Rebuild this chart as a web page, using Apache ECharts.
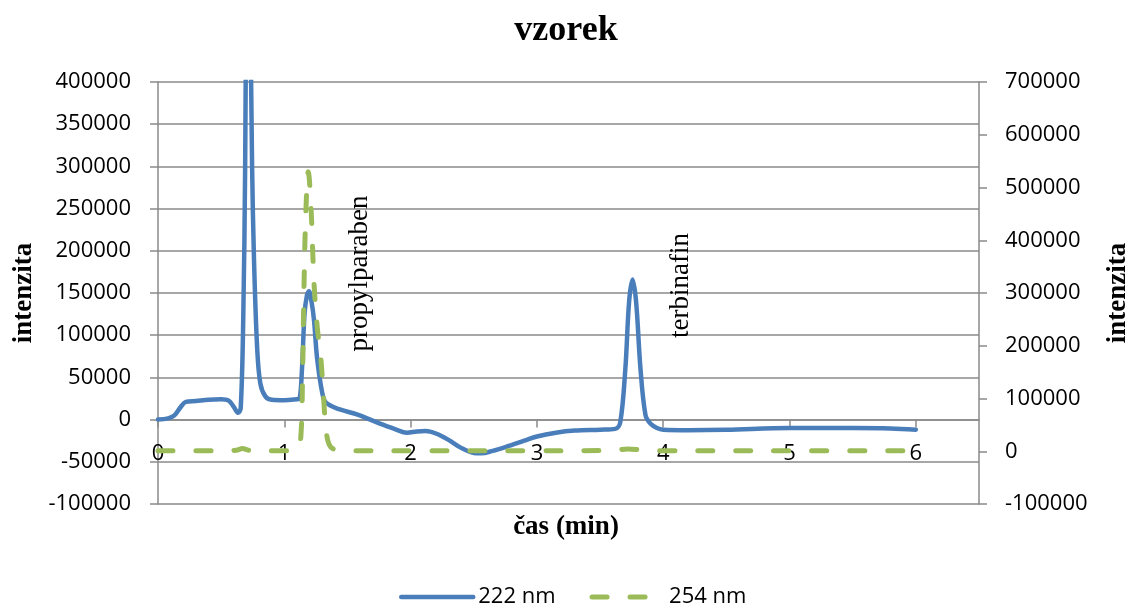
<!DOCTYPE html>
<html>
<head>
<meta charset="utf-8">
<title>vzorek</title>
<script src="https://cdn.jsdelivr.net/npm/echarts@6/dist/echarts.min.js"></script>
<style>
  html, body { margin: 0; padding: 0; background: #fff; }
  #chart { width: 1132px; height: 610px; }
</style>
</head>
<body>
<div id="chart"></div>
<script>
// Chromatogram of the sample: detector signal at 222 nm (left axis) and 254 nm (right axis)
const time222 = [0, 0.08, 0.13, 0.18, 0.22, 0.3, 0.4, 0.5, 0.56, 0.6, 0.635, 0.655, 0.675, 0.69, 0.70, 0.715, 0.73, 0.745, 0.76, 0.785, 0.81, 0.85, 0.9, 1.0, 1.1,
  1.12, 1.14, 1.16, 1.18, 1.195, 1.215, 1.235, 1.26, 1.3, 1.33, 1.44, 1.58, 1.68, 1.78, 1.88, 1.97, 2.05, 2.12, 2.2, 2.3, 2.4, 2.5, 2.56, 2.65, 2.75, 2.9, 3.0, 3.15, 3.3, 3.5, 3.62,
  3.66, 3.7, 3.73, 3.757, 3.785, 3.82, 3.86, 3.9, 3.95, 4.0, 4.2, 4.5, 5.0, 5.5, 5.8, 6.0];
const int222 = [0, 1500, 5000, 15000, 21000, 22000, 23500, 24000, 22500, 15000, 8000, 14000, 120000, 300000, 520000, 640000, 500000, 300000, 190000, 85000, 43000, 27500, 23500, 23000, 24000,
  24500, 60000, 125000, 148000, 152000, 140000, 118000, 72000, 32000, 20000, 12000, 6000, 0, -6000, -11500, -15500, -14000, -13500, -16500, -24000, -33500, -39500, -40000, -37000, -32500, -25000, -20000, -15500, -13000, -12000, -11000,
  -3000, 60000, 140000, 166000, 140000, 60000, 5000, -5000, -10000, -12000, -12500, -12000, -10000, -10000, -10500, -12000];

const time254 = [0, 0.5, 0.62, 0.67, 0.72, 1.0, 1.1, 1.13, 1.145, 1.155, 1.17, 1.19, 1.21, 1.235, 1.26, 1.29, 1.31, 1.33, 1.355, 1.4, 1.5, 2.0, 3.0, 3.6, 3.72, 3.85, 4.0, 5.0, 6.0];
const int254 = [1000, 1000, 2000, 5000, 2000, 1000, 2000, 25000, 150000, 300000, 450000, 530000, 470000, 320000, 237000, 174000, 105000, 42000, 13000, 3000, 1000, 1000, 1000, 1500, 4500, 2000, 1000, 1000, 1000];

// Peak names written beside the peaks (x in minutes, y on the 222 nm scale)
const peakNames = ['propylparaben', 'terbinafin'];
const peakNameX = [1.60, 4.14];
const peakNameY = [173000, 159000];

const leftTicks = { min: -100000, max: 400000, interval: 50000 };
const rightTicks = { min: -100000, max: 700000, interval: 100000 };
const timeTicks = { min: 0, max: 6.5, interval: 1 };

const seriesNames = ['222 nm', '254 nm'];
const colors = ['#4a7ebb', '#9bbb59'];
const dash254 = [15, 23];

const zip = (xs, ys) => xs.map((x, i) => [x, ys[i]]);

const sansFont = '"Open Sans", "Liberation Sans", sans-serif';
const serifFont = '"Liberation Serif", "DejaVu Serif", serif';
const gridGray = '#8a8a8a';

// Plot area
const W = 1132, H = 610;
const gridBox = { left: 158, right: 153, top: 82, bottom: 106 };
const plotHeight = H - gridBox.top - gridBox.bottom;
// The time axis crosses the left intensity axis at zero
const timeAxisLift = plotHeight * (0 - leftTicks.min) / (leftTicks.max - leftTicks.min);

const plain = v => String(v);

const chart = echarts.init(document.getElementById('chart'), null, { renderer: 'canvas' });

chart.setOption({
  backgroundColor: '#ffffff',
  animation: false,
  title: [
    {
      text: 'vzorek',
      left: 'center',
      top: 8,
      textStyle: { fontFamily: serifFont, fontWeight: 'bold', fontSize: 36, color: '#000' }
    },
    {
      text: 'čas (min)',
      left: 'center',
      top: 509,
      textStyle: { fontFamily: serifFont, fontWeight: 'bold', fontSize: 27, color: '#000' }
    }
  ],
  legend: {
    data: [
      { name: seriesNames[0], lineStyle: { width: 4.5, cap: 'round' } },
      { name: seriesNames[1], lineStyle: { width: 5, type: dash254, cap: 'round' } }
    ],
    left: 394,
    top: 581,
    itemWidth: 72,
    itemHeight: 14,
    itemGap: 34,
    itemStyle: { opacity: 0 },
    textStyle: { fontFamily: sansFont, fontSize: 22, color: '#000' }
  },
  grid: Object.assign({ containLabel: false, outerBoundsMode: 'none' }, gridBox),
  xAxis: {
    type: 'value',
    min: timeTicks.min,
    max: timeTicks.max,
    interval: timeTicks.interval,
    offset: -timeAxisLift,
    axisLine: { onZero: false, lineStyle: { color: gridGray, width: 1.5 } },
    axisTick: { show: true, length: 8, lineStyle: { color: gridGray, width: 1.5 } },
    axisLabel: { margin: 23, showMaxLabel: false, formatter: plain, fontFamily: sansFont, fontSize: 22, color: '#000' },
    splitLine: { show: false }
  },
  yAxis: [
    {
      type: 'value',
      position: 'left',
      min: leftTicks.min,
      max: leftTicks.max,
      interval: leftTicks.interval,
      name: 'intenzita',
      nameLocation: 'middle',
      nameRotate: 90,
      nameGap: 117,
      nameTextStyle: { fontFamily: serifFont, fontWeight: 'bold', fontSize: 27, color: '#000' },
      axisLine: { show: true, onZero: false, lineStyle: { color: gridGray, width: 1.5 } },
      axisTick: { show: true, length: 8, lineStyle: { color: gridGray, width: 1.5 } },
      axisLabel: { margin: 27, formatter: plain, fontFamily: sansFont, fontSize: 22, color: '#000' },
      splitLine: { show: true, lineStyle: { color: gridGray, width: 1.5 } }
    },
    {
      type: 'value',
      position: 'right',
      min: rightTicks.min,
      max: rightTicks.max,
      interval: rightTicks.interval,
      name: 'intenzita',
      nameLocation: 'middle',
      nameRotate: 90,
      nameGap: 126,
      nameTextStyle: { fontFamily: serifFont, fontWeight: 'bold', fontSize: 27, color: '#000' },
      axisLine: { show: true, onZero: false, lineStyle: { color: gridGray, width: 1.5 } },
      axisTick: { show: true, length: 8, lineStyle: { color: gridGray, width: 1.5 } },
      axisLabel: { margin: 26, formatter: plain, fontFamily: sansFont, fontSize: 22, color: '#000' },
      splitLine: { show: false }
    }
  ],
  series: [
    {
      name: seriesNames[0],
      type: 'line',
      yAxisIndex: 0,
      data: zip(time222, int222),
      smooth: 0.35,
      showSymbol: false,
      symbol: 'none',
      clip: true,
      lineStyle: { color: colors[0], width: 4.5, cap: 'round', join: 'round' },
      itemStyle: { color: colors[0] },
      markPoint: {
        symbol: 'circle',
        symbolSize: 1,
        itemStyle: { color: 'transparent' },
        silent: true,
        label: {
          show: true,
          position: 'inside',
          rotate: 90,
          formatter: p => p.name,
          fontFamily: serifFont,
          fontSize: 27,
          color: '#000'
        },
        data: peakNames.map((n, i) => ({ name: n, coord: [peakNameX[i], peakNameY[i]] }))
      }
    },
    {
      name: seriesNames[1],
      type: 'line',
      yAxisIndex: 1,
      data: zip(time254, int254),
      smooth: 0.35,
      showSymbol: false,
      symbol: 'none',
      clip: true,
      lineStyle: { color: colors[1], width: 5, type: dash254, cap: 'round', join: 'round' },
      itemStyle: { color: colors[1] }
    }
  ]
});
</script>
</body>
</html>
